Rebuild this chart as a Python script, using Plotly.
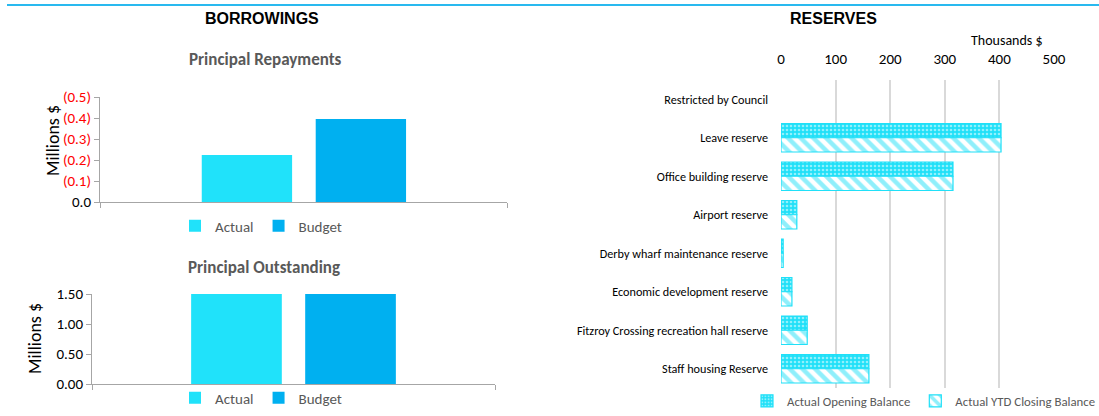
import plotly.graph_objects as go

# ---------------- data ----------------
repay_series = ["Actual", "Budget"]
repay_values = [-0.224, -0.395]          # Millions $, negative (shown as (x) in red)
repay_ticks = [0.0, -0.1, -0.2, -0.3, -0.4, -0.5]
repay_ticktext = ["0.0", "(0.1)", "(0.2)", "(0.3)", "(0.4)", "(0.5)"]

outst_series = ["Actual", "Budget"]
outst_values = [1.50, 1.50]              # Millions $
outst_ticks = [0.0, 0.5, 1.0, 1.5]
outst_ticktext = ["0.00", "0.50", "1.00", "1.50"]

reserve_categories = [
    "Restricted by Council",
    "Leave reserve",
    "Office building reserve",
    "Airport reserve",
    "Derby wharf maintenance reserve",
    "Economic development reserve",
    "Fitzroy Crossing recreation hall reserve",
    "Staff housing Reserve",
]
opening_balance = [None, 403, 315, 29, 4, 20, 48, 161]   # Thousands $
closing_balance = [None, 403, 315, 29, 4, 20, 48, 161]   # Thousands $
reserve_ticks = [0, 100, 200, 300, 400, 500]

# ---------------- styling ----------------
W, H = 1099, 416
C_ACTUAL = "#20E2FA"
C_BUDGET = "#00B0F0"
C_RES = "#20E0F8"
BODY = "Carlito, Lato, sans-serif"
GRAY = "#595959"

def px(x):
    return x / W

def py(y):
    return 1 - y / H

fig = go.Figure()

# ---- Principal Repayments ----
for name, val, col, off in zip(repay_series, repay_values, [C_ACTUAL, C_BUDGET], [-0.25, 0.03]):
    fig.add_trace(go.Bar(x=[0], y=[val], name=name, width=0.222, offset=off,
                         marker=dict(color=col, line=dict(width=0)),
                         xaxis="x", yaxis="y", legend="legend"))

# ---- Principal Outstanding ----
for name, val, col, off in zip(outst_series, outst_values, [C_ACTUAL, C_BUDGET], [-0.254, 0.029]):
    fig.add_trace(go.Bar(x=[0], y=[val], name=name, width=0.225, offset=off,
                         marker=dict(color=col, line=dict(width=0)),
                         xaxis="x2", yaxis="y2", legend="legend2"))

# ---- Reserves ----
fig.add_trace(go.Bar(
    y=reserve_categories, x=opening_balance, orientation="h", name="Actual Opening Balance",
    width=0.37, offset=-0.37,
    marker=dict(color=C_RES, line=dict(color=C_RES, width=1.2),
                pattern=dict(shape=".", fgcolor="white", bgcolor=C_RES, size=4, solidity=0.35,
                             fillmode="overlay")),
    xaxis="x3", yaxis="y3", legend="legend3"))
fig.add_trace(go.Bar(
    y=reserve_categories, x=closing_balance, orientation="h", name="Actual YTD Closing Balance",
    width=0.37, offset=0.0,
    marker=dict(color="white", line=dict(color=C_RES, width=1.2),
                pattern=dict(shape="\\", fgcolor=C_RES, bgcolor="white", size=9, solidity=0.5,
                             fillmode="overlay")),
    xaxis="x3", yaxis="y3", legend="legend3"))

axis_line = dict(showline=True, linecolor="#A6A6A6", linewidth=1, ticks="outside",
                 tickcolor="#A6A6A6", ticklen=5, showgrid=False, zeroline=False,
                 automargin=False)

fig.update_layout(
    autosize=True,
    margin=dict(l=0, r=0, t=0, b=0, pad=0, autoexpand=False),
    paper_bgcolor="white", plot_bgcolor="rgba(0,0,0,0)",
    barmode="group",
    font=dict(family=BODY, color="black"),
    xaxis=dict(domain=[px(100), px(507)], anchor="y", range=[-0.5, 0.5],
               tickvals=[-0.5, 0.5], showticklabels=False, **axis_line),
    yaxis=dict(domain=[py(202), py(97)], anchor="x", range=[0, -0.5],
               tickvals=repay_ticks,
               ticktext=[t if t.startswith("0") else '<span style="color:#FF0000">' + t + "</span>"
                         for t in repay_ticktext],
               tickfont=dict(size=15, family=BODY), **axis_line),
    xaxis2=dict(domain=[px(92), px(495)], anchor="y2", range=[-0.5, 0.5],
                tickvals=[-0.5, 0.5], showticklabels=False, **axis_line),
    yaxis2=dict(domain=[py(384), py(294)], anchor="x2", range=[0, 1.5],
                tickvals=outst_ticks, ticktext=outst_ticktext,
                tickfont=dict(size=15, family=BODY), **axis_line),
    xaxis3=dict(domain=[px(781), px(1054)], anchor="y3", side="top", range=[0, 500],
                tickvals=reserve_ticks, showgrid=True, gridcolor="#D9D9D9", gridwidth=1.5,
                showline=False, zeroline=False, ticks="", tickfont=dict(size=15, family=BODY),
                ticklabelstandoff=12, automargin=False),
    yaxis3=dict(domain=[py(388), py(80)], anchor="x3", type="category",
                autorange="reversed", showline=False, showgrid=False, ticks="",
                tickfont=dict(size=12.2, family=BODY, color="black"), ticklabelstandoff=12,
                automargin=False),
    legend=dict(orientation="h", x=px(175), y=py(226), xanchor="left", yanchor="middle",
                font=dict(size=15, color=GRAY), bgcolor="rgba(0,0,0,0)", itemwidth=30),
    legend2=dict(orientation="h", x=px(175), y=py(398), xanchor="left", yanchor="middle",
                 font=dict(size=15, color=GRAY), bgcolor="rgba(0,0,0,0)", itemwidth=30),
    legend3=dict(orientation="h", x=px(747), y=0, xanchor="left", yanchor="bottom",
                 font=dict(size=12.8, color=GRAY), bgcolor="rgba(0,0,0,0)", itemwidth=30),
)

# Titles and labels
ann = [
    dict(text="<b>BORROWINGS</b>", x=px(262), y=py(19), font=dict(family="Liberation Sans, Arial", size=16, color="black")),
    dict(text="<b>RESERVES</b>", x=px(833), y=py(19), font=dict(family="Liberation Sans, Arial", size=16, color="black")),
    dict(text="<b>Principal Repayments</b>", x=px(265), y=py(60), font=dict(family=BODY, size=17, color=GRAY)),
    dict(text="<b>Principal Outstanding</b>", x=px(264), y=py(267), font=dict(family=BODY, size=17, color=GRAY)),
    dict(text="Thousands $", x=px(1007), y=py(41), font=dict(family=BODY, size=14, color="black")),
    dict(text="Millions $", x=px(53), y=py(141), textangle=-90, font=dict(family=BODY, size=18, color="black")),
    dict(text="Millions $", x=px(35), y=py(339), textangle=-90, font=dict(family=BODY, size=18, color="black")),
]
for a in ann:
    fig.add_annotation(xref="paper", yref="paper", showarrow=False, xanchor="center", yanchor="middle", **a)

fig.add_shape(type="line", xref="paper", yref="paper", x0=px(7), x1=1, y0=py(5), y1=py(5),
              line=dict(color="#29B9EF", width=2))

fig.write_html(
    "out.html",
    config={"displayModeBar": False, "responsive": False},
    default_width="1099px;position:absolute;left:0;top:0",
    default_height="416px",
)
